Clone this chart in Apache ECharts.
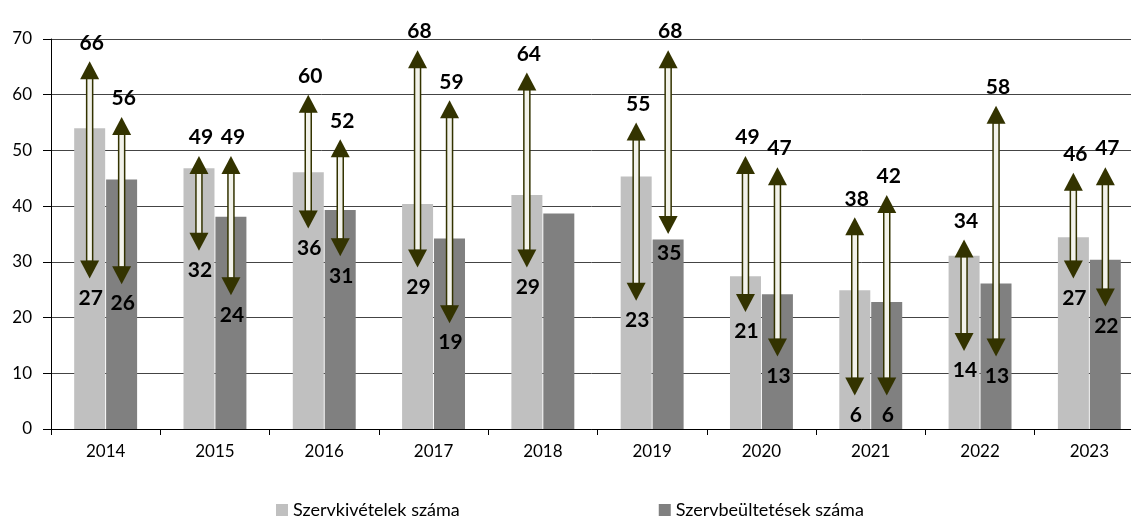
<!DOCTYPE html>
<html>
<head>
<meta charset="utf-8">
<script src="https://cdn.jsdelivr.net/npm/echarts@6/dist/echarts.min.js"></script>
<style>
  html, body { margin: 0; padding: 0; background: #fff; }
  #chart { width: 1131px; height: 520px; }
</style>
</head>
<body>
<div id="chart"></div>
<script>
// évek és oszlopértékek
const years = ["2014", "2015", "2016", "2017", "2018", "2019", "2020", "2021", "2022", "2023"];
const kivetel = [54.0, 46.8, 46.1, 40.4, 42.0, 45.3, 27.4, 24.9, 31.1, 34.4];
const beultetes = [44.8, 38.1, 39.3, 34.2, 38.7, 34.0, 24.2, 22.8, 26.1, 30.4];

// nyilak: min / max értékek
const kivetelMax = [66, 49, 60, 68, 64, 55, 49, 38, 34, 46];
const kivetelMin = [27, 32, 36, 29, 29, 23, 21, 6, 14, 27];
const beultetesMax = [56, 49, 52, 59, null, 68, 47, 42, 58, 47];
const beultetesMin = [26, 24, 31, 19, null, 35, 13, 6, 13, 22];

const yTicks = [0, 10, 20, 30, 40, 50, 60, 70];

const font = "Lato, 'Open Sans', sans-serif";
const arrowColor = "#333300";

// [kategória, min, max, oldal (-1 bal, +1 jobb)]
const arrowData = [];
years.forEach((y, i) => {
  if (kivetelMax[i] != null) arrowData.push([i, kivetelMin[i], kivetelMax[i], -1]);
  if (beultetesMax[i] != null) arrowData.push([i, beultetesMin[i], beultetesMax[i], 1]);
});

function renderArrow(params, api) {
  const idx = api.value(0);
  const lo = api.value(1);
  const hi = api.value(2);
  const side = api.value(3);
  const top = api.coord([idx, hi]);
  const bot = api.coord([idx, lo]);
  const x = top[0] + side * 16;
  const yTop = top[1];
  const yBot = bot[1];
  const hw = 9.5; // fél fejszélesség
  const hh = 18;  // fejmagasság
  return {
    type: "group",
    children: [
      {
        type: "rect",
        shape: { x: x - 3, y: yTop + hh - 1, width: 6, height: yBot - yTop - 2 * hh + 2 },
        style: { fill: "#f2f2ea", stroke: arrowColor, lineWidth: 1.5 }
      },
      {
        type: "polygon",
        shape: { points: [[x, yTop], [x - hw, yTop + hh], [x + hw, yTop + hh]] },
        style: { fill: arrowColor }
      },
      {
        type: "polygon",
        shape: { points: [[x, yBot], [x - hw, yBot - hh], [x + hw, yBot - hh]] },
        style: { fill: arrowColor }
      },
      {
        type: "text",
        style: {
          text: String(hi), x: x + 2, y: yTop - 8,
          align: "center", verticalAlign: "bottom",
          fill: "#000", font: "bold 21px " + font
        }
      },
      {
        type: "text",
        style: {
          text: String(lo), x: x + 1, y: yBot + 9,
          align: "center", verticalAlign: "top",
          fill: "#000", font: "bold 21px " + font
        }
      }
    ]
  };
}

const chart = echarts.init(document.getElementById("chart"));

const option = {
  animation: false,
  textStyle: { fontFamily: font },
  grid: { left: 51, right: -13, top: 39, bottom: 91, outerBoundsMode: "none", containLabel: false },
  legend: {
    data: ["Szervkivételek száma", "Szervbeültetések száma"],
    left: 271,
    top: 496,
    itemWidth: 12,
    itemHeight: 12,
    itemGap: 199,
    icon: "rect",
    textStyle: { fontSize: 18, color: "#000", fontFamily: font }
  },
  xAxis: {
    type: "category",
    data: years,
    axisLine: { lineStyle: { color: "#000", width: 1 } },
    axisTick: { show: true, length: 6, lineStyle: { color: "#000" } },
    axisLabel: { fontSize: 17, color: "#000", margin: 14 }
  },
  yAxis: {
    type: "value",
    min: yTicks[0],
    max: yTicks[yTicks.length - 1],
    interval: 10,
    axisLine: { show: true, lineStyle: { color: "#000", width: 1 } },
    axisTick: { show: true, length: 8, lineStyle: { color: "#000" } },
    axisLabel: { fontSize: 17, color: "#000", margin: 19 },
    splitLine: { lineStyle: { color: "#444", width: 1 } }
  },
  series: [
    {
      name: "Szervkivételek száma",
      type: "bar",
      data: kivetel,
      barWidth: 31,
      barGap: "3%",
      itemStyle: { color: "#c0c0c0" }
    },
    {
      name: "Szervbeültetések száma",
      type: "bar",
      data: beultetes,
      barWidth: 31,
      itemStyle: { color: "#808080" }
    },
    {
      type: "custom",
      renderItem: renderArrow,
      data: arrowData,
      encode: { x: 0, y: [1, 2] },
      clip: false,
      z: 5
    }
  ]
};

chart.setOption(option);
</script>
</body>
</html>
